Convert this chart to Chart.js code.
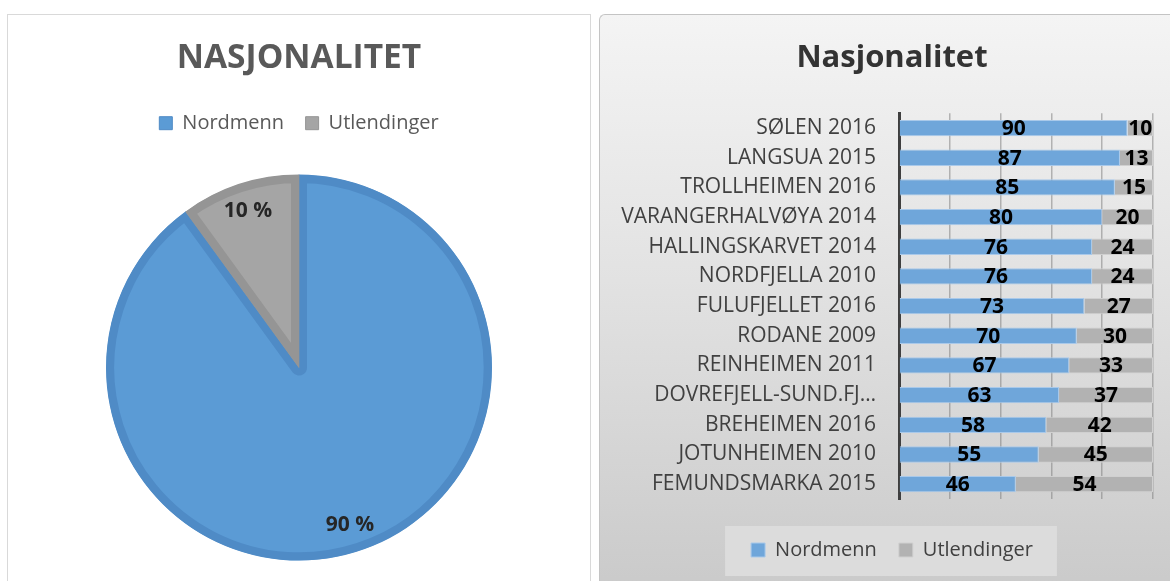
<!DOCTYPE html>
<html>
<head>
<meta charset="utf-8">
<script src="https://cdn.jsdelivr.net/npm/chart.js@4.4.1/dist/chart.umd.min.js"></script>
<style>
  body { margin: 0; background: #fff; width: 1170px; height: 581px; overflow: hidden; position: relative; }
  #pieBox { position: absolute; left: 7px; top: 14px; width: 584px; height: 600px; box-sizing: border-box;
            border: 1px solid #d9d9d9; background: #fff; }
  #barBox { position: absolute; left: 599px; top: 14px; width: 590px; height: 590px; box-sizing: border-box;
            border-left: 1px solid #c4c4c4; border-top: 1px solid #c4c4c4; border-top-left-radius: 6px;
            background: linear-gradient(180deg, #f4f4f4 0%, #e2e2e2 45%, #c9c9c9 100%); }
  canvas { display: block; }
</style>
</head>
<body>
<div id="pieBox"><canvas id="pieChart" width="582" height="577"></canvas></div>
<div id="barBox"><canvas id="barChart" width="570" height="566"></canvas></div>
<script>
// pie: share of visitors
const pieLabels = ['Nordmenn', 'Utlendinger'];
const pieValues = [90, 10];

// bars: per area, percent
const areas = [
  'SØLEN 2016', 'LANGSUA 2015', 'TROLLHEIMEN 2016', 'VARANGERHALVØYA 2014',
  'HALLINGSKARVET 2014', 'NORDFJELLA 2010', 'FULUFJELLET 2016', 'RODANE 2009',
  'REINHEIMEN 2011', 'DOVREFJELL-SUND.FJ…', 'BREHEIMEN 2016', 'JOTUNHEIMEN 2010',
  'FEMUNDSMARKA 2015'
];
const nordmenn = [90, 87, 85, 80, 76, 76, 73, 70, 67, 63, 58, 55, 46];
const utlendinger = [10, 13, 15, 20, 24, 24, 27, 30, 33, 37, 42, 45, 54];

Chart.defaults.font.family = "'Open Sans', sans-serif";

// percent labels inside the pie slices
const pieLabelPlugin = {
  id: 'pieLabels',
  afterDatasetsDraw(chart) {
    const ctx = chart.ctx;
    const meta = chart.getDatasetMeta(0);
    ctx.save();
    ctx.font = "bold 21px 'Open Sans'";
    ctx.fillStyle = '#262626';
    ctx.textAlign = 'center';
    ctx.textBaseline = 'middle';
    meta.data.forEach((arc, i) => {
      const p = arc.getProps(['x', 'y', 'startAngle', 'endAngle', 'outerRadius']);
      const mid = (p.startAngle + p.endAngle) / 2;
      const r = p.outerRadius * 0.855;
      ctx.fillText(pieValues[i] + ' %', p.x + Math.cos(mid) * r, p.y + Math.sin(mid) * r);
    });
    ctx.restore();
  }
};

// value labels centred in each bar segment
const barLabelPlugin = {
  id: 'barLabels',
  afterDatasetsDraw(chart) {
    const ctx = chart.ctx;
    ctx.save();
    ctx.font = "bold 21px 'Open Sans'";
    ctx.fillStyle = '#000';
    ctx.textAlign = 'center';
    ctx.textBaseline = 'middle';
    chart.data.datasets.forEach((ds, di) => {
      chart.getDatasetMeta(di).data.forEach((bar, i) => {
        ctx.fillText(ds.data[i], (bar.x + bar.base) / 2, bar.y + 1);
      });
    });
    ctx.restore();
  }
};

// title + legend are centred a bit right of the plot in the original
const boxShiftPlugin = {
  id: 'boxShift',
  afterLayout(chart) {
    [chart.titleBlock, chart.legend].forEach(b => {
      if (b) { b.left += 10.5; b.right += 10.5; }
    });
  }
};

// light box behind the bar chart legend
const legendBgPlugin = {
  id: 'legendBg',
  beforeDraw(chart) {
    const boxes = chart.legend && chart.legend.legendHitBoxes;
    if (!boxes || !boxes.length) return;
    const left = Math.min(...boxes.map(b => b.left)) - 26;
    const right = Math.max(...boxes.map(b => b.left + b.width)) + 24;
    const top = Math.min(...boxes.map(b => b.top)) - 14;
    const bottom = Math.max(...boxes.map(b => b.top + b.height)) + 16;
    const ctx = chart.ctx;
    ctx.save();
    ctx.fillStyle = '#dcdcdc';
    ctx.fillRect(left, top, right - left, bottom - top);
    ctx.restore();
  }
};

new Chart(document.getElementById('pieChart'), {
  type: 'pie',
  data: {
    labels: pieLabels,
    datasets: [{
      data: pieValues,
      backgroundColor: ['#5b9bd5', '#a5a5a5'],
      borderColor: ['#4f8bc6', '#959595'],
      borderWidth: 8,
      borderAlign: 'inner'
    }]
  },
  options: {
    responsive: false,
    animation: false,
    layout: { padding: { left: 98, right: 98, top: 0, bottom: 0 } },
    plugins: {
      title: {
        display: true,
        text: 'NASJONALITET',
        color: '#595959',
        font: { size: 33.5, weight: 'bold' },
        padding: { top: 23.5, bottom: 13 }
      },
      legend: {
        position: 'top',
        labels: {
          color: '#595959',
          font: { size: 20 },
          boxWidth: 13,
          boxHeight: 13,
          padding: 21.5,
          generateLabels(chart) {
            const ds = chart.data.datasets[0];
            return chart.data.labels.map((text, i) => ({
              text: text,
              fillStyle: ds.backgroundColor[i],
              strokeStyle: ds.borderColor[i],
              lineWidth: 1,
              fontColor: '#595959',
              hidden: false,
              index: i
            }));
          }
        }
      },
      tooltip: { enabled: false }
    }
  },
  plugins: [pieLabelPlugin]
});

new Chart(document.getElementById('barChart'), {
  type: 'bar',
  data: {
    labels: areas,
    datasets: [
      { label: 'Nordmenn', data: nordmenn, backgroundColor: '#6fa6da', borderColor: '#a9c9ea', borderWidth: 1 },
      { label: 'Utlendinger', data: utlendinger, backgroundColor: '#b2b2b2', borderColor: '#d0d0d0', borderWidth: 1 }
    ]
  },
  options: {
    indexAxis: 'y',
    responsive: false,
    animation: false,
    layout: { padding: { left: 10, right: 17, top: 0, bottom: 11 } },
    datasets: { bar: { barPercentage: 0.55, categoryPercentage: 1 } },
    scales: {
      x: {
        stacked: true,
        min: 0,
        max: 100,
        ticks: { display: false, stepSize: 20 },
        grid: { color: 'rgba(120,120,120,0.5)', lineWidth: 1.5, drawTicks: false },
        border: { display: false },
        afterFit(s) { s.height = 19; }
      },
      y: {
        stacked: true,
        grid: { display: false },
        border: { color: '#3f3f3f', width: 3 },
        ticks: { color: '#404040', font: { size: 21 }, padding: 15 },
        afterFit(s) { s.width = 289; }
      }
    },
    plugins: {
      title: {
        display: true,
        text: 'Nasjonalitet',
        color: '#333333',
        font: { size: 31, weight: 'bold' },
        padding: { top: 25, bottom: 36 }
      },
      legend: {
        position: 'bottom',
        labels: { color: '#404040', font: { size: 20 }, boxWidth: 14, boxHeight: 14, padding: 22 }
      },
      tooltip: { enabled: false }
    }
  },
  plugins: [boxShiftPlugin, legendBgPlugin, barLabelPlugin]
});
</script>
</body>
</html>
